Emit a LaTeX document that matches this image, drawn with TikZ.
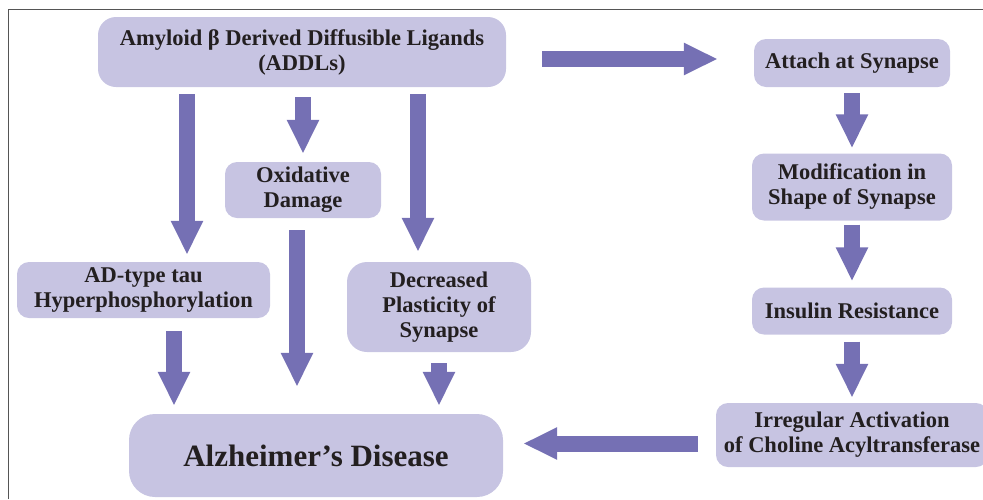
\documentclass[tikz,border=0pt]{standalone}
\usepackage{fontspec}
\setmainfont{Liberation Serif}
\usepackage{tikz}
\usetikzlibrary{arrows.meta, positioning}
\definecolor{boxfill}{RGB}{199,196,226}
\definecolor{arrowfill}{RGB}{117,112,180}
\definecolor{txt}{RGB}{35,31,32}
\definecolor{framecol}{RGB}{85,85,85}

\begin{document}
\begin{tikzpicture}[x=1pt, y=-1pt, node distance=124pt,
  box/.style={fill=boxfill, rounded corners=12pt, align=center, text=txt, inner sep=0pt, font=\bfseries\fontsize{22.5}{25}\selectfont},
  fat/.style={draw=arrowfill, line width=16pt, -{Triangle[width=30pt, length=34pt]}}]
\useasboundingbox (0,0) rectangle (983,499);
\draw[framecol, line width=1pt] (8,499) -- (8,9.3) -- (983,9.3);
% Nodes
\node (addl) [box, rounded corners=18pt, minimum width=408pt, minimum height=70pt] at (302,52) {Amyloid β Derived Diffusible Ligands\\(ADDLs)};
\node (oxid) [box, minimum width=156pt, minimum height=56pt] at (303,190) {Oxidative\\Damage};
\node (tau) [box, minimum width=253pt, minimum height=56pt] at (143.5,290) {AD-type tau\\Hyperphosphorylation};
\node (plast) [box, rounded corners=20pt, minimum width=184pt, minimum height=90pt] at (439,307) {Decreased\\Plasticity of\\Synapse};
\node (alz) [box, rounded corners=26pt, minimum width=374pt, minimum height=83pt, font=\bfseries\fontsize{31}{34}\selectfont] at (316,455.5) {Alzheimer’s Disease};
\node (attach) [box, minimum width=196pt, minimum height=48pt] at (852,63) {Attach at Synapse};
\node (modif) [box, minimum width=200pt, minimum height=67pt, below of=attach] {Modification in\\Shape of Synapse};
\node (insulin) [box, minimum width=200pt, minimum height=47pt, below of=modif] {Insulin Resistance};
\node (irreg) [box, minimum width=272pt, minimum height=64pt, below of=insulin] {Irregular Activation\\of Choline Acyltransferase};
% Arrows
\draw[fat, shorten <=36pt, shorten >=36pt] ([yshift=-7pt]addl.east) -- ([yshift=-7pt]addl.east -| attach.west);
\draw[fat, shorten <=7pt, shorten >=7pt] ([xshift=-115pt]addl.south) -- ([xshift=-115pt]addl.south |- tau.north);
\draw[fat, shorten <=10pt, shorten >=8pt] (addl.south -| oxid.north) -- (oxid.north);
\draw[fat, shorten <=7pt, shorten >=10pt] ([xshift=116pt]addl.south) -- ([xshift=116pt]addl.south |- plast.north);
\draw[fat, shorten <=13pt, shorten >=8pt] ([xshift=30.5pt]tau.south) -- ([xshift=30.5pt]tau.south |- alz.north);
\draw[fat, shorten <=12pt, shorten >=27pt] ([xshift=-6pt]oxid.south) -- ([xshift=-6pt]oxid.south |- alz.north);
\draw[fat, shorten <=11pt, shorten >=8pt] (plast.south) -- (plast.south |- alz.north);
\draw[fat, shorten <=6pt, shorten >=5pt] (attach.south) -- (modif.north);
\draw[fat, shorten <=4pt, shorten >=6pt] (modif.south) -- (insulin.north);
\draw[fat, shorten <=7pt, shorten >=5pt] (insulin.south) -- (irreg.north);
\draw[fat, shorten <=18pt, shorten >=20pt] ([yshift=-8.5pt]irreg.west) -- ([yshift=-8.5pt]irreg.west -| alz.east);
\end{tikzpicture}
\end{document}
